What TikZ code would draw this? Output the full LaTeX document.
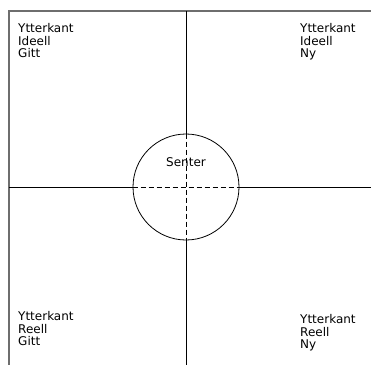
\documentclass[tikz,border=0pt]{standalone}
\usepackage{fontspec}
\setmainfont{DejaVu Sans}
\usepackage{tikz}
\usepackage{xcolor}
\usetikzlibrary{positioning,calc}
\definecolor{frameGray}{RGB}{110,110,110}

\begin{document}
\begin{tikzpicture}[x=1pt, y=-1pt,
    quadtxt/.style={align=left, inner sep=0pt, anchor=north west, font=\fontsize{12}{12.8}\selectfont},
    frame/.style={frameGray, line width=1.3pt},
    axis/.style={black, line width=0.9pt},
    inner/.style={black, line width=0.8pt, dash pattern=on 5pt off 3pt}]
    \useasboundingbox (0,0) rectangle (371,365);
    % Frame
    \coordinate (tl) at (9,11);
    \coordinate (tr) at (371,11);
    \coordinate (bl) at (9,365);
    \draw[frame] (tr) -- (tl) -- (bl);
    % Center circle
    \node[circle, draw, line width=0.8pt, minimum size=106pt, inner sep=0pt] (senter) at (186,187) {};
    \node[quadtxt, anchor=base] (sentertxt) at (186,166) {Senter};
    % Axes
    \coordinate (top) at (186,11);
    \coordinate (bottom) at (186,365);
    \coordinate (left) at (9,187);
    \coordinate (right) at (371,187);
    \draw[axis] (top) -- (senter.north);
    \draw[axis] (senter.south) -- (bottom);
    \draw[axis] (left) -- (senter.west);
    \draw[axis] (senter.east) -- (right);
    \draw[inner] (senter.north) -- (senter.south);
    \draw[inner] (senter.west) -- (senter.east);
    % Quadrant labels
    \node[quadtxt] (ul) at (18,23) {Ytterkant\\Ideell\\Gitt};
    \node[quadtxt] (ur) at (300,23) {Ytterkant\\Ideell\\Ny};
    \node[quadtxt] (ll) at (18,311) {Ytterkant\\Reell\\Gitt};
    \node[quadtxt] (lr) at (300,314) {Ytterkant\\Reell\\Ny};
\end{tikzpicture}
\end{document}
